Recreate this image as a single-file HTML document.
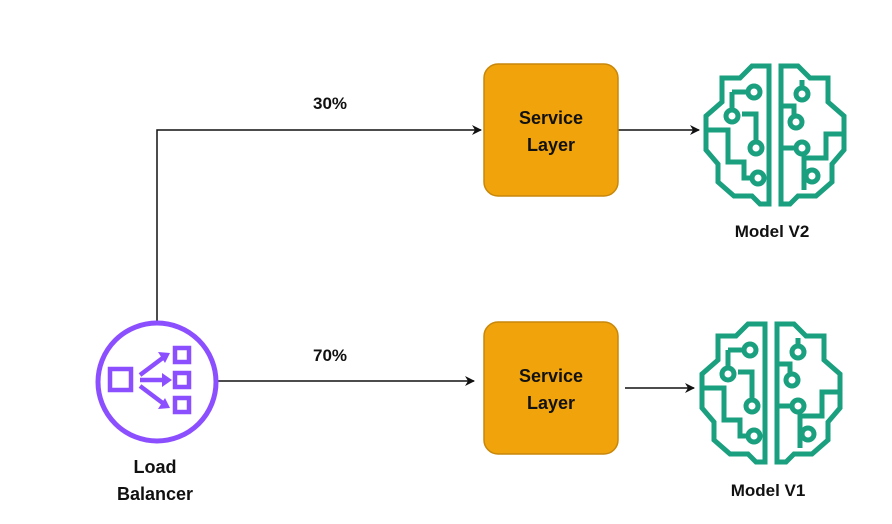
<!DOCTYPE html>
<html><head><style>
body{margin:0;background:#fff;}
.t{font-family:"Liberation Sans",sans-serif;font-weight:bold;fill:#111;}
</style></head><body>
<svg width="892" height="519" viewBox="0 0 892 519" xmlns="http://www.w3.org/2000/svg">
<defs>
<marker id="a" markerWidth="10" markerHeight="10" refX="9" refY="5" orient="auto" markerUnits="userSpaceOnUse">
<path d="M0,0 L10,5 L0,10 L3,5 Z" fill="#111"/></marker>
<g id="brain" fill="none" stroke="#1a9f7f" stroke-width="5" stroke-linejoin="miter">
<path d="M69,8 L52,8 L40,20 L22,20 L22,44 L6,58 L6,92 L18,106 L18,124 L34,138 L52,138 L60,146 L69,146 Z"/>
<path d="M81,8 L98,8 L110,20 L128,20 L128,44 L144,58 L144,92 L132,106 L132,124 L116,138 L98,138 L90,146 L81,146 Z"/>
<path d="M32,34 L32,52"/><circle cx="32" cy="58" r="6"/>
<path d="M32,34 L48,34"/><circle cx="54" cy="34" r="6"/>
<path d="M42,56 L56,56 L56,84"/><circle cx="56" cy="90" r="6"/>
<path d="M6,72 L28,72 L28,104 L44,104 L44,120 L52,120"/><circle cx="58" cy="120" r="6"/>
<path d="M81,48 L94,48 L94,58"/><circle cx="96" cy="64" r="6"/>
<path d="M102,22 L102,30"/><circle cx="102" cy="36" r="6"/>
<path d="M81,90 L96,90"/><circle cx="102" cy="90" r="6"/>
<path d="M144,76 L126,76 L126,100 L104,100 L104,132"/><circle cx="112" cy="118" r="6"/>
</g>
</defs>
<path d="M157,322 L157,130 L481,130" fill="none" stroke="#111" stroke-width="1.5" marker-end="url(#a)"/>
<path d="M218,381 L474,381" fill="none" stroke="#111" stroke-width="1.5" marker-end="url(#a)"/>
<path d="M618,130 L699,130" fill="none" stroke="#111" stroke-width="1.5" marker-end="url(#a)"/>
<path d="M625,388 L694,388" fill="none" stroke="#111" stroke-width="1.5" marker-end="url(#a)"/>
<text class="t" x="330" y="109" font-size="17" text-anchor="middle">30%</text>
<text class="t" x="330" y="361" font-size="17" text-anchor="middle">70%</text>
<rect x="484" y="64" width="134" height="132" rx="14" fill="#f0a30a" stroke="#c8870a" stroke-width="1.5"/>
<text class="t" x="551" y="124" font-size="18" text-anchor="middle">Service</text>
<text class="t" x="551" y="151" font-size="18" text-anchor="middle">Layer</text>
<rect x="484" y="322" width="134" height="132" rx="14" fill="#f0a30a" stroke="#c8870a" stroke-width="1.5"/>
<text class="t" x="551" y="382" font-size="18" text-anchor="middle">Service</text>
<text class="t" x="551" y="409" font-size="18" text-anchor="middle">Layer</text>
<circle cx="157" cy="382" r="59" fill="none" stroke="#8c4fff" stroke-width="5"/>
<g fill="none" stroke="#8c4fff" stroke-width="4.5">
<rect x="110" y="369" width="21" height="21"/>
<rect x="175" y="348" width="14" height="14"/>
<rect x="175" y="373" width="14" height="14"/>
<rect x="175" y="398" width="14" height="14"/>
<path d="M140,375 L164,357 M140,380 L166,380 M140,386 L164,404"/>
</g>
<g fill="#8c4fff"><path d="M170,353 L158,352 L165,363 Z"/><path d="M172,380 L162,373 L162,387 Z"/><path d="M170,408 L158,409 L165,398 Z"/></g>
<text class="t" x="155" y="473" font-size="18" text-anchor="middle">Load</text>
<text class="t" x="155" y="500" font-size="18" text-anchor="middle">Balancer</text>
<use href="#brain" x="700" y="58"/>
<use href="#brain" x="696" y="316"/>
<text class="t" x="772" y="237" font-size="17" text-anchor="middle">Model V2</text>
<text class="t" x="768" y="496" font-size="17" text-anchor="middle">Model V1</text>
</svg>
</body></html>
